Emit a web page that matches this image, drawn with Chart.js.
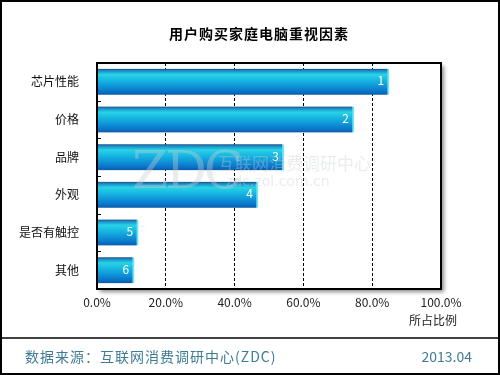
<!DOCTYPE html>
<html>
<head>
<meta charset="utf-8">
<script src="https://cdn.jsdelivr.net/npm/chart.js@4"></script>
<style>
  body { margin: 0; background: #fff; }
  #wrap { width: 500px; height: 375px; }
</style>
</head>
<body>
<div id="wrap"><canvas id="myChart" width="500" height="375"></canvas></div>
<script>
// data
const factor_labels = ['芯片性能', '价格', '品牌', '外观', '是否有触控', '其他'];
const share_values = [84.9, 74.7, 54.3, 46.8, 12.0, 10.8];
const rank_labels = ['1', '2', '3', '4', '5', '6'];
const chart_title = '用户购买家庭电脑重视因素';
const x_axis_title = '所占比例';
const source_text = '数据来源：互联网消费调研中心(ZDC)';
const date_text = '2013.04';

const cjk_font = '"Noto Sans CJK SC", "Noto Sans", sans-serif';
const bar_thickness = 26;

function bar_gradient(context){
    const chart = context.chart;
    const yscale = chart.scales.y;
    if (!yscale) return '#1aa0dc';
    const c = yscale.getPixelForValue(context.dataIndex);
    if (!isFinite(c)) return '#1aa0dc';
    const top = c - bar_thickness/2;
    const g = chart.ctx.createLinearGradient(0, top, 0, top + bar_thickness);
    g.addColorStop(0, '#1d4f86');
    g.addColorStop(0.08, '#1b8fc8');
    g.addColorStop(0.22, '#27d3e6');
    g.addColorStop(0.5, '#14aee0');
    g.addColorStop(0.85, '#0a78cc');
    g.addColorStop(1, '#0a5aa8');
    return g;
}

const framePlugin = {
    id: 'frame',
    beforeDraw(chart){
        const ctx = chart.ctx;
        const a = chart.chartArea;
        ctx.save();
        ctx.fillStyle = '#fff';
        ctx.fillRect(0, 0, chart.width, chart.height);
        // plot area shadow
        ctx.shadowColor = 'rgba(0,0,0,0.45)';
        ctx.shadowBlur = 4;
        ctx.shadowOffsetX = 3;
        ctx.shadowOffsetY = 3;
        ctx.fillStyle = '#fff';
        ctx.fillRect(a.left, a.top, a.right - a.left, a.bottom - a.top);
        ctx.restore();
    },
    afterDatasetsDraw(chart){
        const ctx = chart.ctx;
        const a = chart.chartArea;
        const yscale = chart.scales.y;
        ctx.save();
        // rank numbers on the bars
        const meta = chart.getDatasetMeta(0);
        ctx.fillStyle = '#fff';
        ctx.font = '12px ' + cjk_font;
        ctx.textAlign = 'right';
        ctx.textBaseline = 'middle';
        meta.data.forEach((bar, i) => {
            ctx.fillText(rank_labels[i], bar.x - 5, bar.y - 1);
        });
        // watermark
        ctx.fillStyle = 'rgba(200,205,210,0.38)';
        ctx.textAlign = 'left';
        ctx.textBaseline = 'alphabetic';
        ctx.font = '52px "DejaVu Serif", serif';
        if ('letterSpacing' in ctx) ctx.letterSpacing = '-3px';
        ctx.fillText('ZDC', 132, 188);
        if ('letterSpacing' in ctx) ctx.letterSpacing = '0px';
        ctx.font = '17px ' + cjk_font;
        ctx.fillText('互联网消费调研中心', 218, 170);
        ctx.font = '14px "DejaVu Sans", sans-serif';
        ctx.fillText('zdc.zol.com.cn', 226, 186);
        // category boundary ticks inside the plot
        ctx.strokeStyle = '#000';
        ctx.lineWidth = 1;
        for (let i = 0; i < factor_labels.length - 1; i++){
            const yb = Math.round((yscale.getPixelForValue(i) + yscale.getPixelForValue(i+1))/2) + 0.5;
            ctx.beginPath();
            ctx.moveTo(a.left, yb);
            ctx.lineTo(a.left + 4, yb);
            ctx.stroke();
        }
        // plot border
        ctx.lineWidth = 2;
        ctx.strokeRect(a.left, a.top, a.right - a.left, a.bottom - a.top);
        ctx.restore();
    },
    afterDraw(chart){
        const ctx = chart.ctx;
        ctx.save();
        // title
        ctx.fillStyle = '#000';
        ctx.font = 'bold 14px ' + cjk_font;
        ctx.textAlign = 'center';
        ctx.textBaseline = 'middle';
        if ('letterSpacing' in ctx) ctx.letterSpacing = '1px';
        ctx.fillText(chart_title, 259, 34);
        if ('letterSpacing' in ctx) ctx.letterSpacing = '0px';
        // x axis title
        ctx.font = '12px ' + cjk_font;
        ctx.fillStyle = '#222';
        ctx.fillText(x_axis_title, 433, 320);
        // footer
        ctx.strokeStyle = '#000';
        ctx.lineWidth = 1.5;
        ctx.beginPath();
        ctx.moveTo(0, 338);
        ctx.lineTo(chart.width, 338);
        ctx.stroke();
        ctx.fillStyle = '#3f7b96';
        ctx.font = '14px ' + cjk_font;
        ctx.textAlign = 'left';
        if ('letterSpacing' in ctx) ctx.letterSpacing = '1px';
        ctx.fillText(source_text, 25, 357);
        if ('letterSpacing' in ctx) ctx.letterSpacing = '0px';
        ctx.textAlign = 'right';
        ctx.fillText(date_text, 472, 357);
        // outer frame
        ctx.lineWidth = 2;
        ctx.strokeRect(1, 1, chart.width - 2, chart.height - 2);
        ctx.restore();
    }
};

const ctx = document.getElementById('myChart').getContext('2d');
const myChart = new Chart(ctx, {
    type: 'bar',
    data: {
        labels: factor_labels,
        datasets: [{
            data: share_values,
            backgroundColor: bar_gradient,
            borderColor: '#6fe6f4',
            borderWidth: {right: 2, top: 0, bottom: 0, left: 0},
            borderSkipped: false,
            barThickness: bar_thickness
        }]
    },
    options: {
        indexAxis: 'y',
        responsive: false,
        animation: false,
        layout: {
            padding: {top: 63, right: 59, left: 0, bottom: 0}
        },
        scales: {
            x: {
                min: 0,
                max: 100,
                afterFit: function(scale){ scale.height = 86; },
                ticks: {
                    stepSize: 20,
                    padding: 6,
                    color: '#222',
                    font: {family: cjk_font, size: 12},
                    callback: function(value){ return value.toFixed(1) + '%'; }
                },
                border: {display: false, dash: [3, 2]},
                grid: {
                    drawTicks: false,
                    color: function(c){
                        return (c.tick && (c.tick.value === 0 || c.tick.value === 100)) ? 'rgba(0,0,0,0)' : '#000';
                    },
                    lineWidth: 1
                }
            },
            y: {
                afterFit: function(scale){ scale.width = 97; },
                ticks: {
                    padding: 10,
                    color: '#111',
                    font: {family: cjk_font, size: 12}
                },
                border: {display: false},
                grid: {display: false}
            }
        },
        plugins: {
            legend: {display: false},
            tooltip: {enabled: false}
        }
    },
    plugins: [framePlugin]
});
</script>
</body>
</html>
